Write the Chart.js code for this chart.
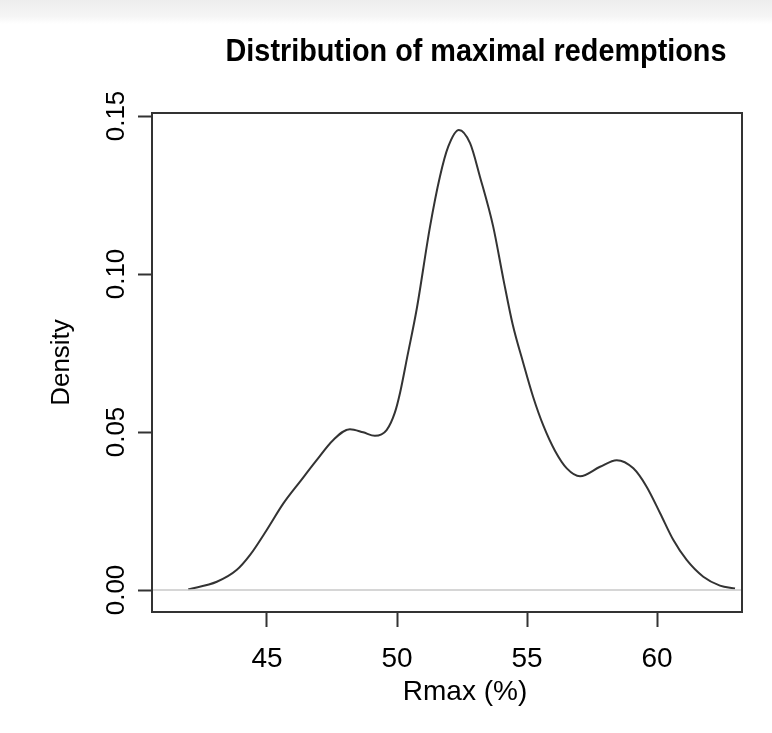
<!DOCTYPE html>
<html>
<head>
<meta charset="utf-8">
<script src="https://cdn.jsdelivr.net/npm/chart.js@4"></script>
<style>
  html, body {
    margin: 0;
    padding: 0;
    background: linear-gradient(#ededed 0px, #f5f5f5 16px, #ffffff 24px);
  }
  #wrap {
    width: 772px;
    height: 733px;
  }
</style>
</head>
<body>
<div id="wrap"><canvas id="densityChart" width="772" height="733"></canvas></div>
<script>
// ------------------------------
// DATA
// ------------------------------

const chartTitle = "Distribution of maximal redemptions";
const xAxisTitle = "Rmax (%)";
const yAxisTitle = "Density";

const rmaxValues = [
  41.97, 43.07, 43.83, 44.35, 44.99, 45.63, 46.27, 46.91, 47.55, 48.19,
  48.70, 49.15, 49.60, 49.92, 50.12, 50.40, 50.76, 51.27, 51.65, 51.97,
  52.38, 52.81, 53.19, 53.70, 54.10, 54.45, 54.85, 55.24, 55.63, 56.08,
  56.53, 57.04, 57.81, 58.45, 59.09, 59.60, 60.12, 60.63, 61.14, 61.78,
  62.42, 63.00
];

const densityValues = [
  0.0002, 0.0026, 0.0063, 0.0111, 0.0190, 0.0274, 0.0343, 0.0411, 0.0475, 0.0509,
  0.0499, 0.0488, 0.0506, 0.0562, 0.0625, 0.0740, 0.0890, 0.1150, 0.1308, 0.1403,
  0.1456, 0.1414, 0.1308, 0.1150, 0.0980, 0.0840, 0.0720, 0.0610, 0.0520, 0.0440,
  0.0385, 0.0360, 0.0390, 0.0411, 0.0385, 0.0327, 0.0243, 0.0158, 0.0095, 0.0042,
  0.0014, 0.0005
];

const xTickValues = [45, 50, 55, 60];
const xTickLabels = ["45", "50", "55", "60"];
const yTickValues = [0, 0.05, 0.10, 0.15];
const yTickLabels = ["0.00", "0.05", "0.10", "0.15"];

const xRange = [40.577, 63.269];
const yRange = [-0.00696, 0.15095];

// ------------------------------
// HELPERS
// ------------------------------

function toPoints(xs, ys) {
  return xs.map((x, i) => ({ x: x, y: ys[i] }));
}

function labelFor(values, labels, value) {
  const i = values.findIndex((v) => Math.abs(v - value) < 1e-9);
  return i >= 0 ? labels[i] : "";
}

const fontFamily = "'Liberation Sans', Arial, sans-serif";

// R-style box round the plot region
const plotBox = {
  id: "plotBox",
  afterDatasetsDraw(chart) {
    const { ctx, chartArea } = chart;
    ctx.save();
    ctx.strokeStyle = "#333333";
    ctx.lineWidth = 2;
    ctx.strokeRect(chartArea.left, chartArea.top,
      chartArea.right - chartArea.left, chartArea.bottom - chartArea.top);
    ctx.restore();
  }
};

// main title and x title sit a bit right of the box centre in the original
const outerTexts = {
  id: "outerTexts",
  afterDraw(chart) {
    const { ctx } = chart;
    ctx.save();
    ctx.fillStyle = "#000000";
    ctx.textAlign = "center";
    ctx.textBaseline = "alphabetic";

    // condensed bold title
    ctx.save();
    ctx.translate(476, 61);
    ctx.scale(0.9, 1);
    ctx.font = `bold 32px ${fontFamily}`;
    ctx.fillText(chartTitle, 0, 0);
    ctx.restore();

    ctx.font = `28px ${fontFamily}`;
    ctx.fillText(xAxisTitle, 465, 700);
    ctx.restore();
  }
};

// ------------------------------
// RENDER
// ------------------------------

function renderDensityChart() {
  const ctx = document.getElementById("densityChart").getContext("2d");

  new Chart(ctx, {
    type: "scatter",
    data: {
      datasets: [
        {
          label: "zero",
          data: [{ x: xRange[0], y: 0 }, { x: xRange[1], y: 0 }],
          showLine: true,
          borderColor: "#c8c8c8",
          borderWidth: 1.5,
          pointRadius: 0
        },
        {
          label: yAxisTitle,
          data: toPoints(rmaxValues, densityValues),
          showLine: true,
          borderColor: "#333333",
          borderWidth: 2,
          pointRadius: 0,
          cubicInterpolationMode: "monotone"
        }
      ]
    },
    options: {
      responsive: false,
      animation: false,
      layout: {
        padding: { left: 0, right: 30, top: 113, bottom: 0 }
      },
      plugins: {
        legend: { display: false },
        tooltip: { enabled: false },
        title: { display: false }
      },
      scales: {
        x: {
          type: "linear",
          min: xRange[0],
          max: xRange[1],
          afterBuildTicks(scale) {
            scale.ticks = xTickValues.map((v) => ({ value: v }));
          },
          afterFit(scale) {
            scale.height = 121;
            scale.paddingLeft = 0;
            scale.paddingRight = 0;
          },
          ticks: {
            color: "#000000",
            font: { family: fontFamily, size: 28 },
            padding: 15,
            maxRotation: 0,
            callback(value) {
              return labelFor(xTickValues, xTickLabels, value);
            }
          },
          grid: {
            drawOnChartArea: false,
            drawTicks: true,
            tickLength: 15,
            tickColor: "#333333",
            tickWidth: 2
          },
          border: { display: false },
          title: { display: false }
        },
        y: {
          type: "linear",
          min: yRange[0],
          max: yRange[1],
          afterBuildTicks(scale) {
            scale.ticks = yTickValues.map((v) => ({ value: v }));
          },
          afterFit(scale) {
            scale.width = 152;
            scale.paddingTop = 0;
            scale.paddingBottom = 0;
          },
          ticks: {
            color: "#000000",
            font: { family: fontFamily, size: 26 },
            padding: -4,
            minRotation: 90,
            maxRotation: 90,
            crossAlign: "center",
            callback(value) {
              return labelFor(yTickValues, yTickLabels, value);
            }
          },
          grid: {
            drawOnChartArea: false,
            drawTicks: true,
            tickLength: 14,
            tickColor: "#333333",
            tickWidth: 2
          },
          border: { display: false },
          title: {
            display: true,
            text: yAxisTitle,
            color: "#000000",
            font: { family: fontFamily, size: 26 },
            padding: { top: 46, bottom: 0 }
          }
        }
      }
    },
    plugins: [plotBox, outerTexts]
  });
}

document.addEventListener("DOMContentLoaded", renderDensityChart);
</script>
</body>
</html>
